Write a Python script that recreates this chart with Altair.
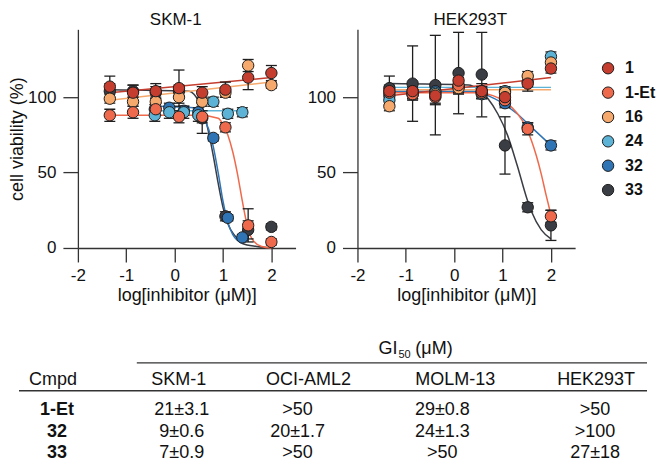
import altair as alt
import pandas as pd

# ---------------- data ----------------
compounds = ["1", "1-Et", "16", "24", "32", "33"]
palette = ["#c43d2e", "#ef6a4c", "#f6a96c", "#5cb3d5", "#2f74b5", "#3a3d43"]
draw_order = ["33", "32", "24", "16", "1-Et", "1"]

# log10 concentration (uM)
log_c_3fold = [-1.34, -0.86, -0.39, 0.09, 0.57, 1.05, 1.52, 2.0]
log_c_2fold = [-0.41, -0.11, 0.19, 0.49, 0.80, 1.10, 1.40]

# SKM-1 viability (%) and error
skm_1 = [107, 103, 104, 106, 103, 105, 113, 116]
skm_1_err = [7, 5, 5, 12, 4, 5, 8, 5]
skm_1et = [88, 90, 92, 87, 87, 80, 15, 4]
skm_1et_err = [4, 4, 4, 4, 4, 3, 11, 2]
skm_16 = [99, 97, 97, 100, 97, 103, 121, 108]
skm_16_err = [3, 3, 3, 4, 3, 3, 4, 2]
skm_24 = [88, 90, 90, 88, 97, 89, 90]
skm_24_err = [4, 4, 4, 4, 3, 3, 3]
skm_32 = [92, 93, 91, 90, 73, 20, 7]
skm_32_err = [3, 3, 3, 3, 2, 2, 2]
skm_33 = [104, 104, 103, 104, 86, 21, 12, 14]
skm_33_err = [5, 4, 4, 4, 10, 3, 6, 2]

# HEK293T viability (%) and error
hek_1 = [104, 104, 101, 111, 104, 100, 109, 119]
hek_1_err = [4, 5, 6, 6, 5, 4, 5, 3]
hek_1et = [103, 102, 100, 108, 103, 98, 79, 21]
hek_1et_err = [4, 4, 4, 5, 4, 4, 4, 4]
hek_16 = [94, 102, 102, 106, 103, 103, 114, 123]
hek_16_err = [3, 3, 3, 4, 3, 3, 3, 3]
hek_24 = [98, 102, 103, 107, 102, 104, 110, 127]
hek_24_err = [3, 3, 3, 4, 3, 3, 3, 3]
hek_32 = [101, 104, 104, 107, 104, 96, 80, 68]
hek_32_err = [3, 3, 3, 4, 3, 3, 3, 3]
hek_33 = [106, 109, 108, 116, 115, 68, 27, 15]
hek_33_err = [8, 25, 33, 27, 28, 19, 3, 10]

# fitted curves
skm_fit_1_x = [-1.34, 2.0]
skm_fit_1_y = [103, 113]
skm_fit_1et_x = [-1.34, 0.5, 0.9, 1.0, 1.1, 1.2, 1.3, 1.4, 1.5, 1.6, 1.8, 2.0]
skm_fit_1et_y = [88, 88, 86, 82, 75, 64, 49, 31, 15, 6, 1, 0]
skm_fit_16_x = [-1.34, 2.0]
skm_fit_16_y = [98, 110]
skm_fit_24_x = [-0.41, 1.40]
skm_fit_24_y = [91, 91]
skm_fit_32_x = [-0.41, 0.4, 0.5, 0.6, 0.7, 0.8, 0.9, 1.0, 1.1, 1.2, 1.4]
skm_fit_32_y = [94, 93, 90, 86, 79, 67, 50, 31, 17, 9, 3]
skm_fit_33_x = [-1.34, 0.3, 0.4, 0.5, 0.6, 0.7, 0.8, 0.9, 1.0, 1.1, 1.25, 1.4, 1.7, 2.0]
skm_fit_33_y = [105, 104, 102, 97, 90, 77, 61, 43, 27, 16, 8, 3, 1, 0]

hek_fit_1_x = [-1.34, 2.0]
hek_fit_1_y = [101, 113]
hek_fit_1et_x = [-1.34, 0.5, 0.8, 1.0, 1.2, 1.4, 1.5, 1.6, 1.7, 1.8, 1.9, 2.0]
hek_fit_1et_y = [103, 103, 101, 98, 93, 85, 79, 71, 61, 49, 35, 22]
hek_fit_16_x = [-1.34, 2.0]
hek_fit_16_y = [105, 105]
hek_fit_24_x = [-1.34, 2.0]
hek_fit_24_y = [106.5, 106.5]
hek_fit_32_x = [-1.34, 0.4, 0.7, 1.0, 1.3, 1.6, 1.8, 2.0]
hek_fit_32_y = [104, 104, 101, 96, 89, 80, 74, 68]
hek_fit_33_x = [-1.34, 0.3, 0.5, 0.7, 0.9, 1.1, 1.3, 1.5, 1.6, 1.8, 2.0]
hek_fit_33_y = [109, 108, 105, 99, 89, 75, 55, 33, 24, 12, 6]

# GI50 table
table_cols = ["Cmpd", "SKM-1", "OCI-AML2", "MOLM-13", "HEK293T"]
table_cmpds = ["1-Et", "32", "33"]
gi50_skm1 = ["21±3.1", "9±0.6", "7±0.9"]
gi50_oci = [">50", "20±1.7", ">50"]
gi50_molm = ["29±0.8", "24±1.3", ">50"]
gi50_hek = [">50", ">100", "27±18"]

# ---------------- tables for the library ----------------
point_sets = {
    "SKM-1": {
        "1": (log_c_3fold, skm_1, skm_1_err),
        "1-Et": (log_c_3fold, skm_1et, skm_1et_err),
        "16": (log_c_3fold, skm_16, skm_16_err),
        "24": (log_c_2fold, skm_24, skm_24_err),
        "32": (log_c_2fold, skm_32, skm_32_err),
        "33": (log_c_3fold, skm_33, skm_33_err),
    },
    "HEK293T": {
        "1": (log_c_3fold, hek_1, hek_1_err),
        "1-Et": (log_c_3fold, hek_1et, hek_1et_err),
        "16": (log_c_3fold, hek_16, hek_16_err),
        "24": (log_c_3fold, hek_24, hek_24_err),
        "32": (log_c_3fold, hek_32, hek_32_err),
        "33": (log_c_3fold, hek_33, hek_33_err),
    },
}
fit_sets = {
    "SKM-1": {
        "1": (skm_fit_1_x, skm_fit_1_y), "1-Et": (skm_fit_1et_x, skm_fit_1et_y),
        "16": (skm_fit_16_x, skm_fit_16_y), "24": (skm_fit_24_x, skm_fit_24_y),
        "32": (skm_fit_32_x, skm_fit_32_y), "33": (skm_fit_33_x, skm_fit_33_y),
    },
    "HEK293T": {
        "1": (hek_fit_1_x, hek_fit_1_y), "1-Et": (hek_fit_1et_x, hek_fit_1et_y),
        "16": (hek_fit_16_x, hek_fit_16_y), "24": (hek_fit_24_x, hek_fit_24_y),
        "32": (hek_fit_32_x, hek_fit_32_y), "33": (hek_fit_33_x, hek_fit_33_y),
    },
}

rows = []
for panel_name, sets in point_sets.items():
    for c in draw_order:
        xs, ys, es = sets[c]
        for x, y, e in zip(xs, ys, es):
            rows.append({"panel": panel_name, "cmpd": c, "x": x, "y": y, "lo": y - e, "hi": y + e})
pts = pd.DataFrame(rows)

frows = []
for panel_name, sets in fit_sets.items():
    for c in draw_order:
        xs, ys = sets[c]
        for x, y in zip(xs, ys):
            frows.append({"panel": panel_name, "cmpd": c, "x": x, "y": y})
fits = pd.DataFrame(frows)

FONT = "Liberation Sans"
INK = "#1e1e1e"

fill_scale = alt.Scale(domain=compounds, range=palette)
stroke_scale = alt.Scale(domain=compounds, range=palette)
HYPHEN_LABEL = "datum.value < 0 ? '-' + abs(datum.value) : '' + datum.value"


def panel(name, title_dx, left):
    p = pts[pts.panel == name]
    f = fits[fits.panel == name]
    xsc = alt.Scale(domain=[-2, 2.5], nice=False, zero=False)
    ysc = alt.Scale(domain=[0, 145], nice=False, zero=False)
    xaxis = alt.Axis(values=[-2, -1, 0, 1, 2], labelExpr=HYPHEN_LABEL, tickSize=14, labelPadding=6,
                     labelFlush=False, titlePadding=3, title="log[inhibitor (μM)]")
    if left:
        yaxis = alt.Axis(values=[0, 50, 100], tickSize=15, labelPadding=7, titlePadding=1,
                         labelFlush=False, title="cell viability (%)")
    else:
        yaxis = alt.Axis(values=[0, 50, 100], tickSize=15, labelPadding=7,
                         labelFlush=False, title=None)
    X = alt.X("x:Q", scale=xsc, axis=xaxis)
    Y = alt.Y("y:Q", scale=ysc, axis=yaxis)

    lines = alt.Chart(f).mark_line(strokeWidth=1.5, interpolate="monotone").encode(
        x=X, y=Y,
        stroke=alt.Stroke("cmpd:N", scale=stroke_scale, legend=None),
        detail="cmpd:N",
    )
    bars = alt.Chart(p).mark_rule(color=INK, strokeWidth=1.3).encode(
        x=alt.X("x:Q", scale=xsc), y=alt.Y("lo:Q", scale=ysc), y2="hi:Q")
    cap_lo = alt.Chart(p).mark_tick(orient="horizontal", size=11, thickness=1.3,
                                    color=INK, opacity=1).encode(
        x=alt.X("x:Q", scale=xsc), y=alt.Y("lo:Q", scale=ysc))
    cap_hi = alt.Chart(p).mark_tick(orient="horizontal", size=11, thickness=1.3,
                                    color=INK, opacity=1).encode(
        x=alt.X("x:Q", scale=xsc), y=alt.Y("hi:Q", scale=ysc))
    dots = alt.Chart(p).mark_circle(size=130, opacity=1, stroke=INK, strokeWidth=1).encode(
        x=alt.X("x:Q", scale=xsc), y=alt.Y("y:Q", scale=ysc),
        fill=alt.Fill("cmpd:N", scale=fill_scale, legend=None),
    )
    return alt.layer(lines, bars, cap_lo, cap_hi, dots).properties(
        width=218, height=219,
        title=alt.TitleParams(name, dx=title_dx, font=FONT, fontSize=17,
                              fontWeight="normal", offset=0, color="#111"),
    )


left = panel("SKM-1", -11, True)
right = panel("HEK293T", 4, False)

# legend drawn as its own small chart (its view top lines up with the panels' view tops)
leg_df = pd.DataFrame({"cmpd": compounds})
leg_y = alt.Y("cmpd:N", scale=alt.Scale(domain=compounds, range=[39, 161], padding=0), axis=None)
leg_dots = alt.Chart(leg_df).mark_circle(size=130, opacity=1, stroke=INK, strokeWidth=1).encode(
    x=alt.value(22), y=leg_y, fill=alt.Fill("cmpd:N", scale=fill_scale, legend=None))
leg_text = alt.Chart(leg_df).mark_text(font=FONT, fontSize=16, fontWeight="bold", color="#111",
                                       align="left", baseline="middle").encode(
    x=alt.value(39), y=leg_y, text="cmpd:N")
legend_chart = alt.layer(leg_dots, leg_text).properties(width=56, height=180)

top = alt.hconcat(left, right, legend_chart, spacing=11)

# ---------------- table (view origin lines up with the left panel's y axis) ----------------
hdr = pd.DataFrame({"c": list(range(len(table_cols))), "r": [0] * len(table_cols), "t": table_cols})
names = pd.DataFrame({"c": [0] * 3, "r": [1, 2, 3], "t": table_cmpds})
vrows = []
for ci, col in enumerate([gi50_skm1, gi50_oci, gi50_molm, gi50_hek], start=1):
    for ri, v in enumerate(col, start=1):
        vrows.append({"c": ci, "r": ri, "t": v})
vals = pd.DataFrame(vrows)

col_index = list(range(len(table_cols)))
hdr_x = alt.Scale(domain=col_index, range=[-25, 101, 231, 378, 519], zero=False, nice=False)
val_x = alt.Scale(domain=col_index, range=[-21, 104, 220, 365, 518], zero=False, nice=False)
row_y = alt.Scale(domain=[0, 1, 2, 3], range=[47, 77, 99, 120], zero=False, nice=False)

TS = 18
t_hdr = alt.Chart(hdr).mark_text(font=FONT, fontSize=TS, color="#111", baseline="middle").encode(
    x=alt.X("c:Q", scale=hdr_x, axis=None), y=alt.Y("r:Q", scale=row_y, axis=None), text="t:N")
t_names = alt.Chart(names).mark_text(font=FONT, fontSize=TS, fontWeight="bold", color="#111",
                                     baseline="middle").encode(
    x=alt.X("c:Q", scale=val_x, axis=None), y=alt.Y("r:Q", scale=row_y, axis=None), text="t:N")
t_vals = alt.Chart(vals).mark_text(font=FONT, fontSize=TS, color="#111", baseline="middle").encode(
    x=alt.X("c:Q", scale=val_x, axis=None), y=alt.Y("r:Q", scale=row_y, axis=None), text="t:N")

one = pd.DataFrame({"k": [0]})
rule1 = alt.Chart(one).mark_rule(color="#333", strokeWidth=1.3).encode(
    x=alt.value(59), x2=alt.value(570), y=alt.value(30))
rule2 = alt.Chart(one).mark_rule(color="#333", strokeWidth=1.3).encode(
    x=alt.value(-59), x2=alt.value(570), y=alt.value(58))
gi = alt.Chart(one).mark_text(text="GI", font=FONT, fontSize=TS, color="#111", align="right",
                              baseline="middle").encode(x=alt.value(320), y=alt.value(16))
gi_sub = alt.Chart(one).mark_text(text="50", font=FONT, fontSize=11, color="#111", align="left",
                                  baseline="middle").encode(x=alt.value(321), y=alt.value(22))
gi_unit = alt.Chart(one).mark_text(text="(μM)", font=FONT, fontSize=TS, color="#111", align="left",
                                   baseline="middle").encode(x=alt.value(338), y=alt.value(16))

table = alt.layer(rule1, rule2, gi, gi_sub, gi_unit, t_hdr, t_names, t_vals).resolve_scale(
    x="independent", y="independent").properties(width=570, height=122)

chart = alt.vconcat(top, table, spacing=28).properties(
    padding={"left": 0, "top": 3, "right": 0, "bottom": 0}).configure(
    font=FONT).configure_view(strokeWidth=0).configure_axis(
    domainColor="#333", tickColor="#333", domainWidth=1.3, tickWidth=1.3, grid=False,
    labelFont=FONT, labelFontSize=17, labelColor="#111", titleFont=FONT, titleFontSize=18,
    titleFontWeight="normal", titleColor="#111")

chart.save("out.html", embed_options={"renderer": "svg", "actions": False})
